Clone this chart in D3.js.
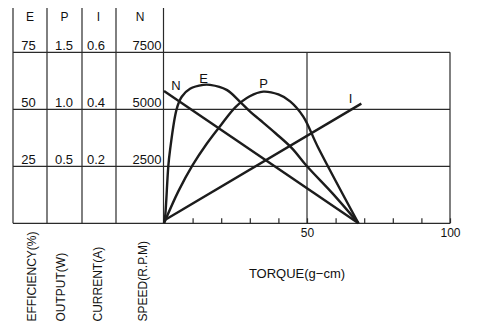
<!DOCTYPE html>
<html>
<head>
<meta charset="utf-8">
<script src="https://cdn.jsdelivr.net/npm/d3@7"></script>
<style>
  body { margin: 0; background: #fff; }
  svg text { font-family: "Liberation Sans", Arial, sans-serif; fill: #111; }
</style>
</head>
<body>
<div id="chart"></div>
<script>
// scale columns on the left: efficiency, output, current, speed
const columnHeads = ["E", "P", "I", "N"];
const effTicks = [25, 50, 75];
const outTicks = ["0.5", "1.0", "1.5"];
const curTicks = ["0.2", "0.4", "0.6"];
const spdTicks = [2500, 5000, 7500];
const columnTitles = ["EFFICIENCY(%)", "OUTPUT(W)", "CURRENT(A)", "SPEED(R.P.M)"];

// curves, torque in g-cm
const effTorque = [0, 0.4, 1.5, 2.1, 4.4, 6.2, 9.1, 13.7, 16.1, 21.9, 26.6, 30.1, 33.6, 39, 44.7, 50, 59, 68];
const efficiency = [0, 3, 25, 32, 50, 55.5, 59, 60.7, 60.7, 58.5, 53.3, 49, 45.3, 39.5, 33, 25, 13, 0];
const outTorque = [0, 5, 10, 15, 20, 25, 30, 34.7, 40, 44.1, 48.7, 53.8, 68];
const output = [0, 0.28, 0.51, 0.7, 0.865, 1.02, 1.115, 1.155, 1.13, 1.07, 0.936, 0.67, 0];
const curTorque = [0, 69];
const current = [0.01, 0.42];
const spdTorque = [0, 68];
const speed = [5800, 0];
const torqueTicks = [10, 20, 30, 40, 50, 60, 70, 80, 90, 100];

const width = 477, height = 325;
const svg = d3.select("#chart").append("svg")
  .attr("width", width)
  .attr("height", height);

const x = d3.scaleLinear().domain([0, 100]).range([164, 450]);
const yE = d3.scaleLinear().domain([0, 75]).range([223.3, 52.3]);
const yP = d3.scaleLinear().domain([0, 1.5]).range([223.3, 52.3]);
const yI = d3.scaleLinear().domain([0, 0.6]).range([223.3, 52.3]);
const yN = d3.scaleLinear().domain([0, 7500]).range([223.3, 52.3]);

const colEdges = [13, 47, 82, 116, 163.5];
const colCenters = [30, 64.5, 98.5, 140];
const lineColor = "#2a2a2a";

// horizontal rules across table and plot
[0, 25, 50, 75].forEach(v => {
  svg.append("line")
    .attr("x1", colEdges[0]).attr("x2", x(100))
    .attr("y1", yE(v)).attr("y2", yE(v))
    .attr("stroke", lineColor).attr("stroke-width", 1.2);
});

// column separators
colEdges.forEach(cx => {
  svg.append("line")
    .attr("x1", cx).attr("x2", cx)
    .attr("y1", 8).attr("y2", yE(0))
    .attr("stroke", lineColor).attr("stroke-width", 1.2);
});

// plot verticals at 50 and 100
[50, 100].forEach(t => {
  svg.append("line")
    .attr("x1", x(t)).attr("x2", x(t))
    .attr("y1", yE(75)).attr("y2", yE(0))
    .attr("stroke", lineColor).attr("stroke-width", 1.2);
});

// column heads
svg.selectAll(".head")
  .data(columnHeads)
  .join("text")
    .attr("x", (d, i) => colCenters[i])
    .attr("y", 21)
    .attr("text-anchor", "middle")
    .style("font-size", "12px")
    .text(d => d);

// column tick values
const colValueX = [28.5, 64, 96];
[effTicks, outTicks, curTicks].forEach((vals, i) => {
  svg.selectAll(".c" + i)
    .data(vals)
    .join("text")
      .attr("x", colValueX[i])
      .attr("y", (d, j) => yE(effTicks[j]) - 2.5)
      .attr("text-anchor", "middle")
      .style("font-size", "13px")
      .text(d => d);
});
svg.selectAll(".spd")
  .data(spdTicks)
  .join("text")
    .attr("x", 161.5)
    .attr("y", d => yN(d) - 2.5)
    .attr("text-anchor", "end")
    .style("font-size", "13px")
    .text(d => d);

// rotated column titles
const titleX = [35.5, 65, 102, 146.5];
svg.selectAll(".title")
  .data(columnTitles)
  .join("text")
    .attr("transform", (d, i) => `translate(${titleX[i]},321.5)rotate(-90)`)
    .attr("text-anchor", "start")
    .style("font-size", "12px")
    .text(d => d);

// torque axis
const axis = svg.append("g")
  .attr("transform", `translate(0,${yE(0)})`)
  .call(d3.axisBottom(x)
    .tickValues(torqueTicks)
    .tickSizeInner(-5)
    .tickSizeOuter(0)
    .tickPadding(5)
    .tickFormat(d => (d === 50 || d === 100) ? d : ""));
axis.select(".domain").remove();
axis.selectAll("line").attr("stroke", lineColor).attr("stroke-width", 1.2);
axis.selectAll("text")
  .style("font-size", "12px")
  .style("font-family", "'Liberation Sans', Arial, sans-serif")
  .attr("fill", "#111");

svg.append("text")
  .attr("x", 297)
  .attr("y", 278)
  .attr("text-anchor", "middle")
  .style("font-size", "13px")
  .text("TORQUE(g\u2212cm)");

// curves
const curves = [
  {t: effTorque, v: efficiency, y: yE},
  {t: outTorque, v: output, y: yP},
  {t: curTorque, v: current, y: yI},
  {t: spdTorque, v: speed, y: yN}
];
curves.forEach(c => {
  const pts = c.t.map((t, i) => [t, c.v[i]]);
  svg.append("path")
    .datum(pts)
    .attr("fill", "none")
    .attr("stroke", "#1c1c1c")
    .attr("stroke-width", 2.4)
    .attr("stroke-linejoin", "round")
    .attr("d", d3.line()
      .x(d => x(d[0]))
      .y(d => c.y(d[1]))
      .curve(d3.curveCatmullRom.alpha(0.5)));
});

// curve labels
const curveLabels = [
  {name: "N", t: 4.2, y: yN, v: 5830},
  {name: "E", t: 13.8, y: yE, v: 61.5},
  {name: "P", t: 34.8, y: yP, v: 1.187},
  {name: "I", t: 65.2, y: yI, v: 0.422}
];
svg.selectAll(".lbl")
  .data(curveLabels)
  .join("text")
    .attr("x", d => x(d.t))
    .attr("y", d => d.y(d.v))
    .attr("text-anchor", "middle")
    .style("font-size", "13px")
    .text(d => d.name);
</script>
</body>
</html>
